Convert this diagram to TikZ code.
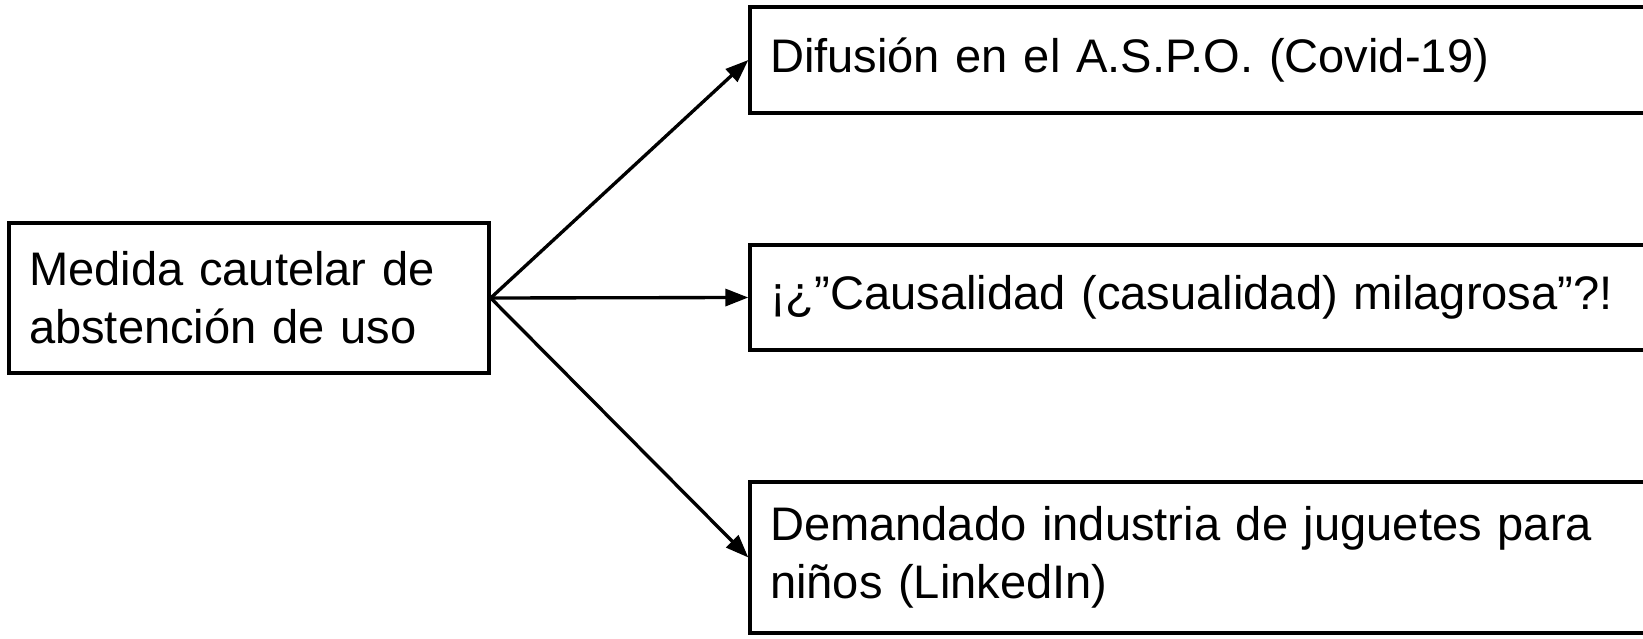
\documentclass[tikz,border=0pt]{standalone}
\usepackage{fontspec}
\setmainfont{Liberation Sans}
\usepackage{tikz}
\usetikzlibrary{arrows.meta}
\tikzstyle{Box}=[rectangle, draw=black, line width=0.95pt, inner xsep=0.2cm, inner ysep=0pt, align=left, font=\fontsize{13.4}{16.5}\selectfont]

\begin{document}
\begin{tikzpicture}[>={Triangle[length=0.23cm, width=0.17cm]}]
    \useasboundingbox (0,0) rectangle (16.43,6.38);
    \path
    (2.49,3.40) node[Box, text width=4.4cm, minimum height=1.5cm] (medida) {Medida cautelar de\\abstención de uso}
    (11.98,5.78) node[Box, text width=8.56cm, minimum height=1.06cm] (difusion) {Difusión en el A.S.P.O. (Covid-19)}
    (11.98,3.405) node[Box, text width=8.56cm, minimum height=1.05cm] (causal) {¡¿”Causalidad (casualidad) milagrosa”?!}
    (11.98,0.805) node[Box, text width=8.56cm, minimum height=1.51cm] (demanda) {Demandado industria de juguetes para\\niños (LinkedIn)};

    \draw[->, line width=0.95pt] (medida.east) -- (difusion.west);
    \draw[->, line width=0.95pt] (medida.east) -- (causal.west);
    \draw[->, line width=0.95pt] (medida.east) -- (demanda.west);
\end{tikzpicture}
\end{document}
